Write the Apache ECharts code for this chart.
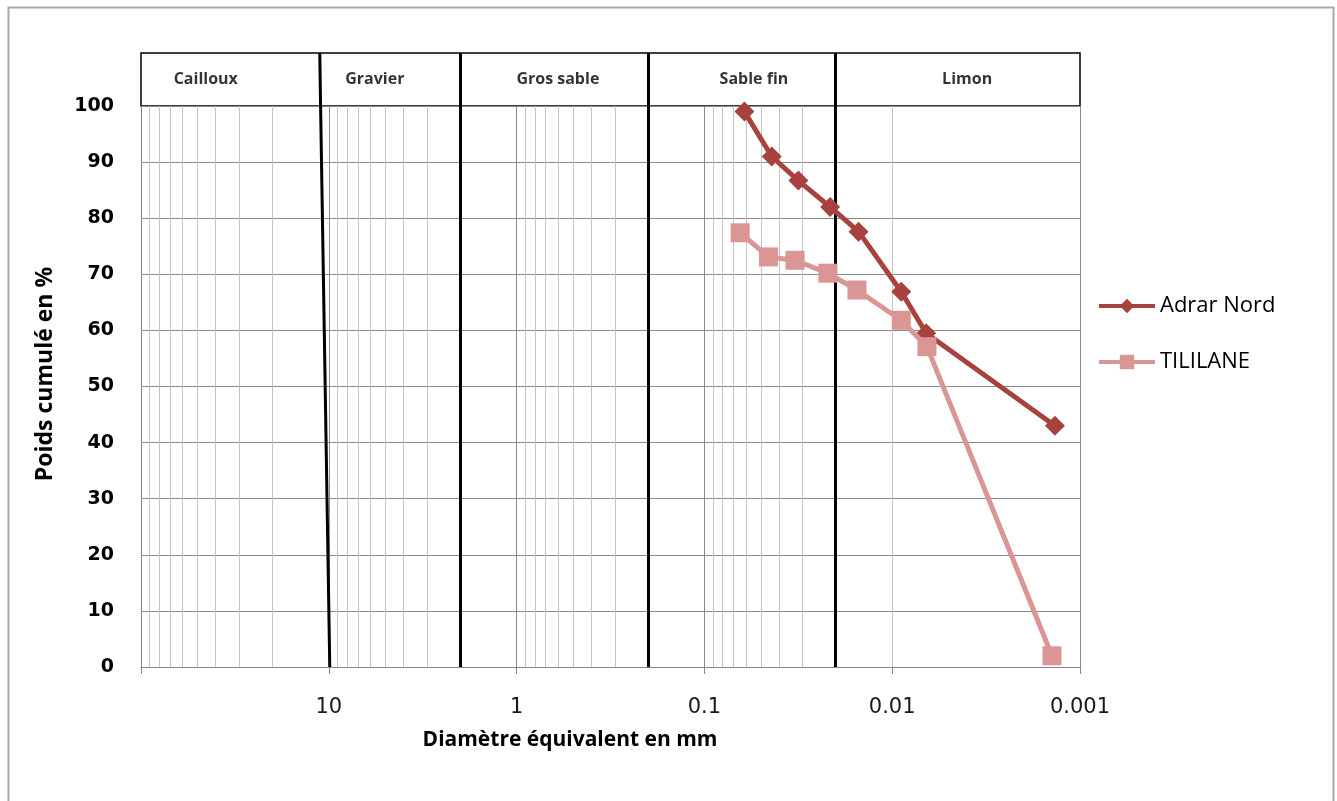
<!DOCTYPE html>
<html>
<head>
<meta charset="utf-8">
<script src="https://cdn.jsdelivr.net/npm/echarts@6/dist/echarts.min.js"></script>
<style>
html,body{margin:0;padding:0;background:#fff;}
#chart{width:1337px;height:801px;}
</style>
</head>
<body>
<div id="chart"></div>
<script>
// ---- data ----
var seriesNames = ['Adrar Nord', 'TILILANE'];
var diamAdrar = [0.0612, 0.0438, 0.0316, 0.0214, 0.0151, 0.00895, 0.00659, 0.00136];
var valAdrar  = [99, 91, 86.7, 82, 77.6, 66.9, 59.5, 43];
var diamTililane = [0.0645, 0.0456, 0.0329, 0.0220, 0.0154, 0.00895, 0.00653, 0.00141];
var valTililane  = [77.4, 73.1, 72.5, 70.2, 67.2, 61.8, 57.1, 2];

var xTickLabels = ['10', '1', '0.1', '0.01', '0.001'];
var bandNames = ['Cailloux', 'Gravier', 'Gros sable', 'Sable fin', 'Limon'];
var bandCenters = [45.2, 5.69, 0.603, 0.0545, 0.00399];
// class boundaries (mm) : value at header top, at header bottom / plot top, at plot bottom
var boundaryTop = [11.17, 2, 0.2, 0.02];
var boundaryMid = [11.06, 2, 0.2, 0.02];
var boundaryBottom = [9.88, 2, 0.2, 0.02];
var decades = [0.001, 0.01, 0.1, 1, 10];
var minorMultipliers = [2, 3, 4, 5, 6, 7, 8, 9];

var xTitle = 'Diamètre équivalent en mm';
var yTitle = 'Poids cumulé en %';

// ---- build ----
function pairs(xs, ys) { return xs.map(function (x, i) { return [x, ys[i]]; }); }
var minorLines = [];
decades.forEach(function (d) {
  minorMultipliers.forEach(function (m) {
    minorLines.push({ xAxis: parseFloat((d * m).toPrecision(3)) });
  });
});

var boundaryMainLines = boundaryMid.map(function (v, i) {
  return [{ coord: [v, 100] }, { coord: [boundaryBottom[i], 0] }];
});
var boundaryHeadLines = boundaryTop.map(function (v, i) {
  return [{ coord: [v, 1] }, { coord: [boundaryMid[i], 0] }];
});

var chart = echarts.init(document.getElementById('chart'));
var option = {
  backgroundColor: '#fff',
  animation: false,
  grid: [
    { left: 141, right: 257, top: 106, bottom: 134 },
    { left: 141, right: 257, top: 53, height: 53, show: true, borderColor: '#000', borderWidth: 1.5, backgroundColor: '#fff' }
  ],
  xAxis: [
    {
      type: 'log', logBase: 10, min: 0.001, max: 100, inverse: true, gridIndex: 0,
      axisLine: { show: true, lineStyle: { color: '#868686', width: 1 } },
      axisTick: { show: true, length: 7, lineStyle: { color: '#868686' } },
      splitLine: { show: true, lineStyle: { color: '#8a8a8a', width: 1 } },
      axisLabel: {
        margin: 30, fontFamily: 'DejaVu Sans', fontSize: 21, color: '#1a1a1a',
        formatter: function (v) {
          var s = String(parseFloat(Number(v).toPrecision(4)));
          return xTickLabels.indexOf(s) >= 0 ? s : '';
        }
      }
    },
    {
      type: 'log', logBase: 10, min: 0.001, max: 100, inverse: true, gridIndex: 1,
      show: false, splitLine: { show: false }
    }
  ],
  yAxis: [
    {
      type: 'value', min: 0, max: 100, interval: 10, gridIndex: 0,
      axisLine: { show: true, lineStyle: { color: '#868686' } },
      axisTick: { show: false },
      splitLine: { show: true, lineStyle: { color: '#8a8a8a', width: 1 } },
      axisLabel: { margin: 27, fontFamily: 'DejaVu Sans', fontWeight: 'bold', fontSize: 19, color: '#000' }
    },
    { type: 'value', min: 0, max: 1, gridIndex: 1, show: false, splitLine: { show: false } }
  ],
  legend: {
    orient: 'vertical', left: 1092, top: 290, itemWidth: 56, itemHeight: 18, itemGap: 34,
    lineStyle: { width: 4 },
    textStyle: { fontFamily: 'Open Sans', fontSize: 22, color: '#000' },
    data: seriesNames
  },
  series: [
    {
      type: 'line', name: '_minor', xAxisIndex: 0, yAxisIndex: 0, data: [], z: 1, silent: true,
      markLine: {
        silent: true, symbol: 'none', animation: false, label: { show: false },
        lineStyle: { color: '#c4c4c4', width: 1, type: 'solid' },
        data: minorLines
      }
    },
    {
      type: 'line', name: '_bounds', xAxisIndex: 0, yAxisIndex: 0, data: [], z: 2, silent: true,
      markLine: {
        silent: true, symbol: 'none', animation: false, label: { show: false },
        lineStyle: { color: '#000', width: 3, type: 'solid' },
        data: boundaryMainLines
      }
    },
    {
      type: 'line', name: '_boundsHead', xAxisIndex: 1, yAxisIndex: 1, data: [], z: 2, silent: true,
      markLine: {
        silent: true, symbol: 'none', animation: false, label: { show: false },
        lineStyle: { color: '#000', width: 3, type: 'solid' },
        data: boundaryHeadLines
      }
    },
    {
      type: 'scatter', name: '_bands', xAxisIndex: 1, yAxisIndex: 1, z: 3, silent: true,
      symbolSize: 1, itemStyle: { color: 'rgba(0,0,0,0)' },
      label: { show: true, position: 'inside', formatter: '{b}', fontFamily: 'Open Sans', fontWeight: 'bold', fontSize: 16, color: '#000' },
      data: bandNames.map(function (n, i) { return { name: n, value: [bandCenters[i], 0.5] }; })
    },
    {
      type: 'line', name: seriesNames[0], xAxisIndex: 0, yAxisIndex: 0, z: 5,
      symbol: 'diamond', symbolSize: 20,
      lineStyle: { color: '#A8423F', width: 5 },
      itemStyle: { color: '#A8423F' },
      data: pairs(diamAdrar, valAdrar)
    },
    {
      type: 'line', name: seriesNames[1], xAxisIndex: 0, yAxisIndex: 0, z: 6,
      symbol: 'rect', symbolSize: 19,
      lineStyle: { color: '#D99694', width: 5 },
      itemStyle: { color: '#D99694' },
      data: pairs(diamTililane, valTililane)
    }
  ],
  graphic: [
    { type: 'rect', left: 6, top: 5, shape: { width: 1325, height: 810 }, style: { fill: 'none', stroke: '#a8a8a8', lineWidth: 2 }, z: 0, silent: true },
    { type: 'text', x: 570, y: 740, style: { text: xTitle, font: 'bold 21px "Open Sans"', fill: '#000', textAlign: 'center', textVerticalAlign: 'middle' }, silent: true },
    { type: 'text', x: 45, y: 374, rotation: Math.PI / 2, style: { text: yTitle, font: 'bold 23px "Open Sans"', fill: '#000', textAlign: 'center', textVerticalAlign: 'middle' }, silent: true }
  ]
};
chart.setOption(option);
</script>
</body>
</html>
